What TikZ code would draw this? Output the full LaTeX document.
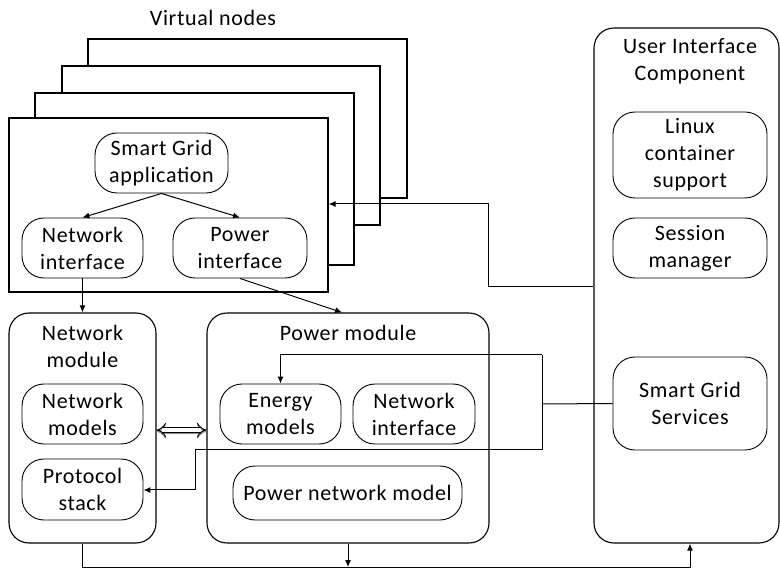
\documentclass[tikz,border=0pt]{standalone}
\usepackage{fontspec}
\setmainfont{Carlito}[LetterSpace=3]
\usetikzlibrary{arrows.meta}
\tikzset{
	vnode/.style={draw, fill=white, line width=1.1pt, inner sep=0pt},
	module/.style={draw, line width=1.1pt, rounded corners=20pt, inner sep=0pt},
	box/.style={draw, line width=0.9pt, rounded corners=22pt, inner sep=0pt, align=center},
	title/.style={align=center, inner sep=0pt},
	wire/.style={line width=1pt},
	arr/.style={line width=1pt, -{Latex[length=7pt,width=6pt]}},
	link/.style={line width=1pt, double=white, double distance=4pt, {Implies}-{Implies}},
}

\begin{document}
\begin{tikzpicture}[x=1pt, y=-1pt, font=\fontsize{22}{27}\selectfont]
			%%%%% START %%%%%
			\useasboundingbox (0,0) rectangle (780,569);
			
			% virtual nodes, back to front
			\node[title] (vtitle) at (213, 18) {Virtual nodes};
			\node[vnode, minimum width=319pt, minimum height=159pt] (vn4) at (247.5, 118.5) {};
			\node[vnode, minimum width=318pt, minimum height=159pt] (vn3) at (221, 145.5) {};
			\node[vnode, minimum width=319pt, minimum height=172pt] (vn2) at (194.5, 179) {};
			\node[vnode, minimum width=319pt, minimum height=174pt] (vn1) at (168.5, 205) {};
			
			\node[box, minimum width=133pt, minimum height=60pt] (sgapp) at (161.5, 163) {Smart Grid\\application};
			\node[box, minimum width=121pt, minimum height=60pt] (netif) at (82.5, 248) {Network\\interface};
			\node[box, minimum width=134pt, minimum height=60pt] (powif) at (240, 248) {Power\\interface};
			
			% network module
			\node[module, minimum width=147pt, minimum height=230pt] (netmod) at (82.5, 428) {};
			\node[title] (nettitle) at (82.5, 346.5) {Network\\module};
			\node[box, minimum width=121pt, minimum height=60pt] (netmodels) at (82.5, 414) {Network\\models};
			\node[box, minimum width=121pt, minimum height=61pt] (protocol) at (82.5, 489.5) {Protocol\\stack};
			
			% power module
			\node[module, minimum width=282pt, minimum height=230pt] (powmod) at (348, 428) {};
			\node[title] (powtitle) at (348, 333) {Power module};
			\node[box, minimum width=121pt, minimum height=60pt] (energy) at (280.5, 414) {Energy\\models};
			\node[box, minimum width=122pt, minimum height=60pt] (pownetif) at (414, 414) {Network\\interface};
			\node[box, minimum width=229pt, minimum height=54pt] (pownet) at (347.5, 493) {Power network model};
			
			% user interface component
			\node[module, minimum width=185pt, minimum height=515pt] (ui) at (686.5, 285.5) {};
			\node[title] (uititle) at (690, 61) {User Interface\\Component};
			\node[box, minimum width=154pt, minimum height=86pt] (linux) at (690, 155) {Linux\\container\\support};
			\node[box, minimum width=154pt, minimum height=60pt] (session) at (690, 248) {Session\\manager};
			\node[box, minimum width=154pt, minimum height=93pt] (sgs) at (690, 403.5) {Smart Grid\\Services};
			
			% connectors inside the virtual node
			\draw[arr] (sgapp.south) -- (netif.north);
			\draw[arr] (sgapp.south) -- (powif.north);
			\draw[arr] (netif.south) -- (netmod.north);
			\draw[arr] (powif.south) -- ([xshift=-6pt]powmod.north);
			
			% user interface to virtual nodes
			\coordinate (uibend) at (488, 204);
			\draw[arr] (ui.west |- 0, 287) -| (uibend) -- (vn1.east |- uibend);
			
			% smart grid services to the modules
			\coordinate (sgsfork) at (542, 404);
			\coordinate (sgsup) at (542, 355);
			\coordinate (sgsdown) at (542, 450);
			\draw[wire] (sgs.west) -- (sgsfork);
			\draw[wire] (sgsup) -- (sgsdown);
			\draw[arr] (sgsup) -| (energy.north);
			\draw[arr] (sgsdown) -| (195, 490) -- (protocol.east |- 0, 490);
			
			% module link, with a soft shadow
			\draw[link, draw=black!45, shift={(1.5, 1.5)}] (netmod.east |- 0, 430) -- (powmod.west |- 0, 430);
			\draw[link] (netmod.east |- 0, 430) -- (powmod.west |- 0, 430);
			
			% bottom bus
			\coordinate (busend) at (690, 567);
			\draw[arr] (netmod.south) |- (busend) -- (busend |- ui.south);
			\draw[arr] (powmod.south) -- (powmod.south |- busend);
			
			%%%%% END %%%%%
\end{tikzpicture}
\end{document}
